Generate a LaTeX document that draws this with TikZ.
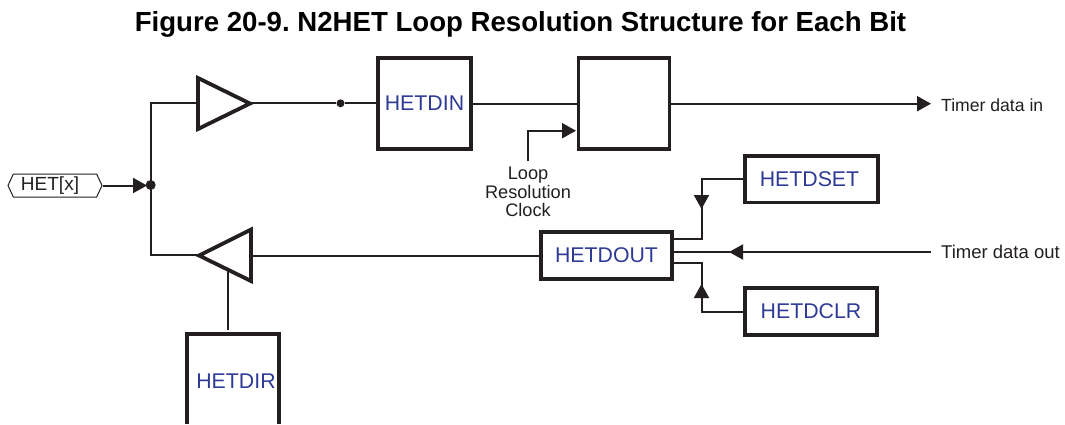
\documentclass[tikz,border=0pt]{standalone}
\usepackage{fontspec}
\setmainfont{Liberation Sans}
\frenchspacing
\usetikzlibrary{arrows.meta,shapes.symbols}
\definecolor{ink}{RGB}{35,31,32}
\definecolor{regblue}{RGB}{46,58,150}
\tikzset{
  x=1pt,y=-1pt,
  wire/.style={draw=ink,line width=2pt},
  tip/.style={-{Triangle[length=14pt,width=15pt,fill=ink]}},
  heavy/.style={draw=ink,line width=3.8pt,line join=miter},
  regbox/.style={heavy,minimum width=#1,inner sep=0pt,text=regblue,font=\fontsize{21.3}{25}\selectfont},
  buf/.style={heavy},
  dot/.style={circle,fill=ink,inner sep=0pt,minimum size=#1},
  sig/.style={text=ink,inner sep=0pt,font=\fontsize{17.6}{21}\selectfont},
}
\begin{document}
\begin{tikzpicture}
\useasboundingbox (0,0) rectangle (1065,424);
\node[text=black,inner sep=0pt,font=\bfseries\fontsize{27.6}{32}\selectfont] (title) at (520.5,24) {Figure 20-9. N2HET Loop Resolution Structure for Each Bit};
% boxes
\node[regbox=93pt,minimum height=91pt] (din) at (424.5,103.6) {HETDIN};
\node[regbox=91pt,minimum height=91pt] (ff) at (624,103.6) {};
\node[regbox=131pt,minimum height=47pt] (dout) at (606.5,255.5) {HETDOUT};
\node[regbox=133pt,minimum height=46.5pt] (dset) at (811.5,179.2) {\hspace*{-4pt}HETDSET};
\node[regbox=132pt,minimum height=47pt] (dclr) at (811,311.5) {HETDCLR};
% HETDIR box, open at the bottom
\draw[heavy] (187,424) -- (187,334) -- (279,334) -- (279,424);
\node[text=regblue,inner sep=0pt,font=\fontsize{21.3}{25}\selectfont] (dirlabel) at (236,381) {HETDIR};
% buffers
\draw[buf] (198,78) -- (198,129) -- (250,103.5) -- cycle;
\draw[buf] (251,229.5) -- (251,281) -- (199,255.5) -- cycle;
\coordinate (bufinw) at (197,103.3);
\coordinate (bufine) at (252,103.3);
\coordinate (bufoutw) at (198,255);
\coordinate (bufoute) at (252,255.7);
\coordinate (bufdir) at (228,270);
\coordinate (dirtop) at (228,330);
% HET[x]
\node[draw=ink,line width=1pt,shape=signal,signal to=west and east,signal pointer angle=130,minimum width=94pt,minimum height=23pt,inner sep=0pt] (het) at (55,185.5) {};
\node[text=ink,inner sep=0pt,font=\fontsize{19}{23}\selectfont] (hetlabel) at (50,185.5) {HET[x]};
\node[dot=10pt] (jn) at (150.7,185) {};
\node[dot=8pt] (tap) at (340.5,103.3) {};
\draw[wire,tip] (103,185.5) -- (147,185.5);
\draw[wire] (bufinw) -- (150.7,103.3) -- (150.7,255) -- (bufoutw);
\draw[wire] (bufine) -- (tap) -- (din.west |- tap);
\draw[wire] (din.east) -- (ff.west);
\draw[wire] (bufoute) -- (dout.west |- bufoute);
\draw[wire] (bufdir) -- (dirtop);
% labels
\node[sig,font=\fontsize{18.2}{18.3}\selectfont,align=center] (clk) at (528,192) {Loop\\Resolution\\Clock};
\node[sig,anchor=west] (tin) at (941,105.5) {Timer data in};
\node[sig,anchor=west,font=\fontsize{18.5}{21}\selectfont] (tout) at (941,252) {Timer data out};
% clock
\coordinate (clkend) at (576,130.7);
\draw[wire,tip] (527.7,161) -- (527.7,130.7) -- (clkend);
% timer data in
\coordinate (tinend) at (931,103.7);
\draw[wire,tip] (ff.east |- tinend) -- (tinend);
% timer data out
\coordinate (toutend) at (931,252);
\coordinate (toutmid) at (729,252);
\draw[wire] (toutend) -- (dout.east |- toutend);
\draw[wire,tip] (toutend) -- (toutmid);
% set / clr
\coordinate (setmid) at (701.5,209);
\coordinate (clrmid) at (701.5,284);
\draw[wire] (dset.west) -- (701.5,179.2) -- (701.5,239) -- (dout.east |- 0,239);
\draw[wire,tip] (701.5,179.2) -- (setmid);
\draw[wire] (dclr.west) -- (701.5,311.5) -- (701.5,263) -- (dout.east |- 0,263);
\draw[wire,tip] (701.5,311.5) -- (clrmid);
\end{tikzpicture}
\end{document}
